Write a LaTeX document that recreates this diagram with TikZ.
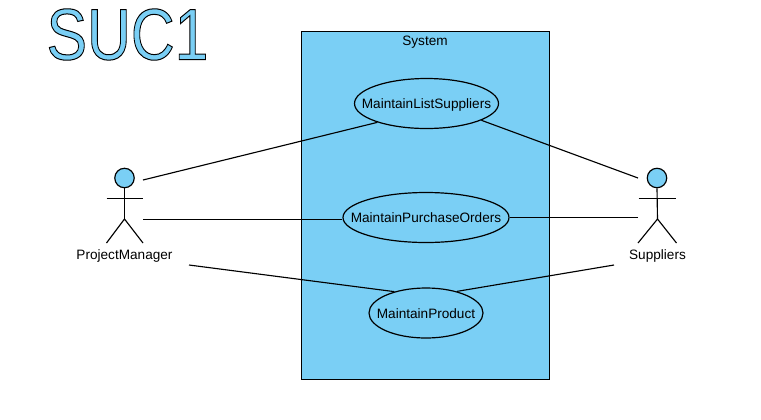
\documentclass[tikz,border=0pt]{standalone}
\usepackage{fontspec}
\setmainfont{Liberation Sans}
\usetikzlibrary{shapes.geometric}
\definecolor{sysblue}{RGB}{122,207,245}
\tikzset{
  x=0.75pt,y=-0.75pt,
  every node/.style={font=\fontsize{10.2pt}{12pt}\selectfont,text=black},
  usecase/.style={ellipse,draw=black,line width=0.9pt,inner sep=0pt},
  systembox/.style={draw=black,fill=sysblue,line width=0.9pt},
  link/.style={draw=black,line width=0.85pt},
  limb/.style={draw=black,line width=0.85pt},
  head/.style={circle,draw=black,fill=sysblue,line width=0.9pt,minimum size=14.6pt,inner sep=0pt}
}
\newcommand{\uctext}[1]{\makebox[0pt]{\smash{\raisebox{-3.9pt}{#1}}}}
\begin{document}
\begin{tikzpicture}
\useasboundingbox (0,0) rectangle (761,419);
\fill[white] (0,0) rectangle (761,419);
\node[anchor=center,inner sep=0pt] (title) at (127.5,34.5) {\scalebox{0.91}[1.09]{\fontsize{50pt}{50pt}\selectfont\textcolor{sysblue}{\special{pdf:code 2 Tr 0.7 w 0 0 0 RG}SUC1\special{pdf:code 0 Tr}}}};
\node[systembox,minimum width=186pt,minimum height=261pt,inner sep=0pt] (sys) at (425.5,205.5) {};
\node (systitle) at (425,42.5) {System};
\node[usecase,minimum width=108pt,minimum height=37.5pt] (mls) at (426.5,103.5) {\uctext{MaintainListSuppliers}};
\node[usecase,minimum width=124.5pt,minimum height=37.5pt] (mpo) at (426,217.5) {\uctext{MaintainPurchaseOrders}};
\node[usecase,minimum width=85.5pt,minimum height=37.5pt] (mp) at (426,313) {\uctext{MaintainProduct}};
% left actor
\node[head] (pmhead) at (124.5,178) {};
\coordinate (pmhip) at (124.5,219);
\coordinate (pmla) at (106.5,198.5);
\coordinate (pmra) at (143,198.5);
\coordinate (pmlf) at (106.5,243);
\coordinate (pmrf) at (143,243);
\draw[limb] (pmhead) -- (pmhip);
\draw[limb] (pmla) -- (pmra);
\draw[limb] (pmlf) -- (pmhip) -- (pmrf);
\node (pm) at (124.5,255.5) {ProjectManager};
% right actor
\node[head] (suhead) at (657,178) {};
\coordinate (suhip) at (657.5,219);
\coordinate (sula) at (638.5,198.5);
\coordinate (sura) at (676,198.5);
\coordinate (sulf) at (638,243);
\coordinate (surf) at (676.5,243);
\draw[limb] (suhead.south) -- (suhip);
\draw[limb] (sula) -- (sura);
\draw[limb] (sulf) -- (suhip) -- (surf);
\node (su) at (657.5,255.5) {Suppliers};
% free ends
\coordinate (pm1) at (143,180);
\coordinate (pm2) at (143,219.5);
\coordinate (pm3) at (189,265);
\coordinate (su1) at (638,178);
\coordinate (su2) at (638,217.5);
\coordinate (su3) at (614,265);
\draw[link] (pm1) -- (mls.201);
\draw[link] (pm2) -- (pm2 -| mpo.west);
\draw[link] (pm3) -- (mp.146);
\draw[link] (su1) -- (mls.343);
\draw[link] (su2) -- (mpo.east);
\draw[link] (su3) -- (mp.35);
\end{tikzpicture}
\end{document}
